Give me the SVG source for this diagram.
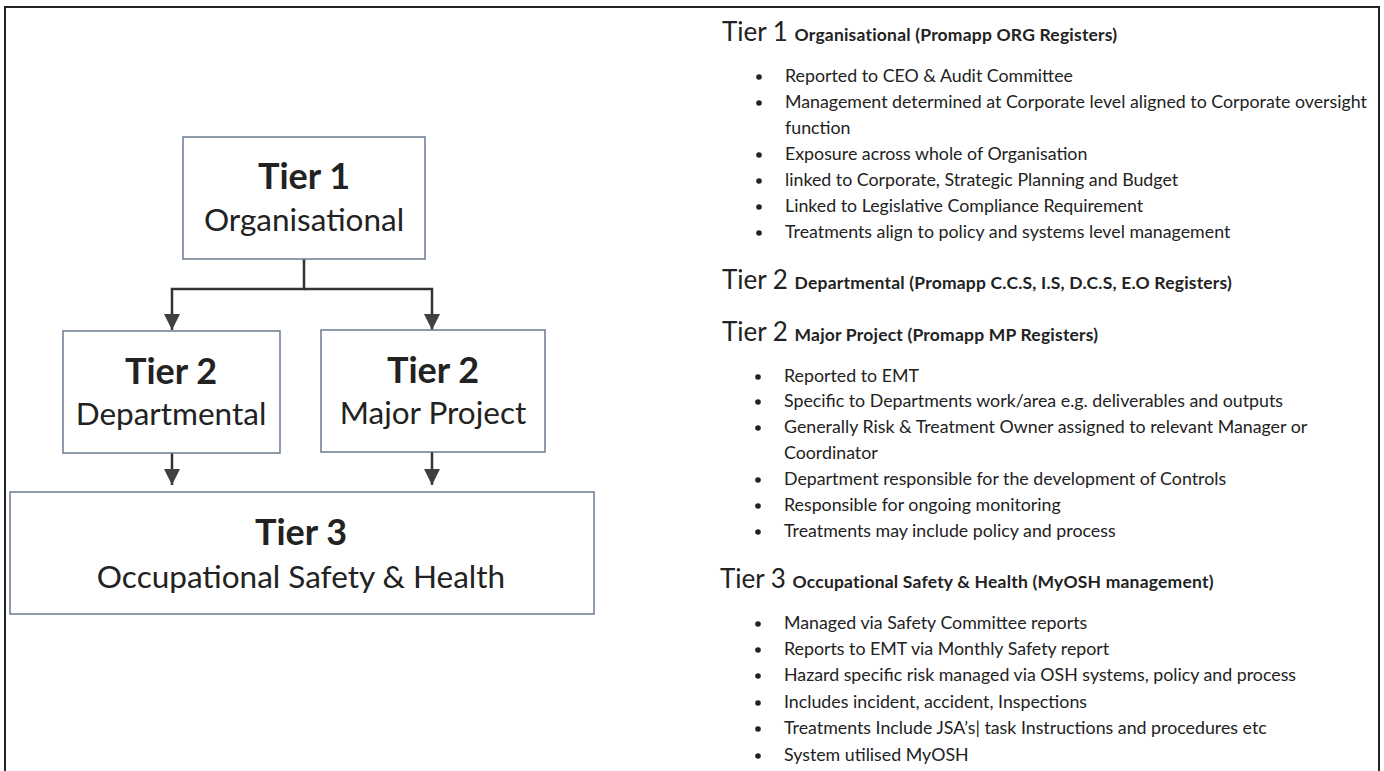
<svg xmlns="http://www.w3.org/2000/svg" width="1384" height="771" viewBox="0 0 1384 771">
<defs>
<style>
.frame{fill:none;stroke:#222;stroke-width:2}
.box{fill:#fff;stroke:#6b7a8f;stroke-width:1.5}
.t1{font-family:Lato,"Open Sans",sans-serif;font-weight:700;font-size:36px;fill:#222;text-anchor:middle}
.t2{font-family:Lato,"Open Sans",sans-serif;font-size:31.5px;fill:#222;text-anchor:middle}
.h{font-family:Lato,"Open Sans",sans-serif;font-size:26px;fill:#222}
.hs{font-family:Lato,"Open Sans",sans-serif;font-weight:700;font-size:17.5px;fill:#222;letter-spacing:0.2px}
.b{font-family:Lato,"Open Sans",sans-serif;font-size:17.8px;fill:#222}
.conn{fill:none;stroke:#333;stroke-width:2.5}
</style>
<marker id="arr" viewBox="0 0 10 10" refX="10" refY="5" markerWidth="6.5" markerHeight="6.5" markerUnits="strokeWidth" orient="auto">
<path d="M0,0 L10,5 L0,10 z" fill="#404040"/>
</marker>
</defs>
<rect x="0" y="0" width="1384" height="771" fill="#fff"/>
<rect class="frame" x="5" y="7" width="1374" height="770"/>

<g id="connectors">
<path class="conn" d="M304,259 V289 H172 V330" marker-end="url(#arr)"/>
<path class="conn" d="M304,289 H432 V330" marker-end="url(#arr)"/>
<path class="conn" d="M172,453 V485" marker-end="url(#arr)"/>
<path class="conn" d="M432,452 V485" marker-end="url(#arr)"/>
</g>

<g id="tier1">
<rect class="box" x="183" y="137" width="242" height="122"/>
<text class="t1" x="304" y="189">Tier 1</text>
<text class="t2" x="304" y="231">Organisational</text>
</g>
<g id="tier2-dept">
<rect class="box" x="63" y="331" width="217" height="122"/>
<text class="t1" x="171" y="384">Tier 2</text>
<text class="t2" x="171" y="425">Departmental</text>
</g>
<g id="tier2-mp">
<rect class="box" x="321" y="330" width="224" height="122"/>
<text class="t1" x="433" y="383">Tier 2</text>
<text class="t2" x="433" y="424">Major Project</text>
</g>
<g id="tier3">
<rect class="box" x="10" y="492" width="584" height="122"/>
<text class="t1" x="301" y="545">Tier 3</text>
<text class="t2" x="301" y="588">Occupational Safety &amp; Health</text>
</g>

<g id="notes">
<text x="722" y="41"><tspan class="h">Tier 1 </tspan><tspan class="hs">Organisational (Promapp ORG Registers)</tspan></text>
<g class="b">
<text x="785" y="82">Reported to CEO &amp; Audit Committee</text>
<text x="785" y="108">Management determined at Corporate level aligned to Corporate oversight</text>
<text x="785" y="134">function</text>
<text x="785" y="160">Exposure across whole of Organisation</text>
<text x="785" y="186">linked to Corporate, Strategic Planning and Budget</text>
<text x="785" y="212">Linked to Legislative Compliance Requirement</text>
<text x="785" y="238">Treatments align to policy and systems level management</text>
</g>
<g fill="#222">
<circle cx="759" cy="77" r="2.8"/><circle cx="759" cy="103" r="2.8"/><circle cx="759" cy="155" r="2.8"/>
<circle cx="759" cy="181" r="2.8"/><circle cx="759" cy="207" r="2.8"/><circle cx="759" cy="233" r="2.8"/>
</g>

<text x="722" y="289"><tspan class="h">Tier 2 </tspan><tspan class="hs">Departmental (Promapp C.C.S, I.S, D.C.S, E.O Registers)</tspan></text>
<text x="722" y="341"><tspan class="h">Tier 2 </tspan><tspan class="hs">Major Project (Promapp MP Registers)</tspan></text>
<g class="b">
<text x="784" y="382">Reported to EMT</text>
<text x="784" y="407">Specific to Departments work/area e.g. deliverables and outputs</text>
<text x="784" y="433">Generally Risk &amp; Treatment Owner assigned to relevant Manager or</text>
<text x="784" y="459">Coordinator</text>
<text x="784" y="485">Department responsible for the development of Controls</text>
<text x="784" y="511">Responsible for ongoing monitoring</text>
<text x="784" y="537">Treatments may include policy and process</text>
</g>
<g fill="#222">
<circle cx="758" cy="377" r="2.8"/><circle cx="758" cy="402" r="2.8"/><circle cx="758" cy="428" r="2.8"/>
<circle cx="758" cy="480" r="2.8"/><circle cx="758" cy="506" r="2.8"/><circle cx="758" cy="532" r="2.8"/>
</g>

<text x="720" y="588"><tspan class="h">Tier 3 </tspan><tspan class="hs">Occupational Safety &amp; Health (MyOSH management)</tspan></text>
<g class="b">
<text x="784" y="629">Managed via Safety Committee reports</text>
<text x="784" y="655">Reports to EMT via Monthly Safety report</text>
<text x="784" y="681">Hazard specific risk managed via OSH systems, policy and process</text>
<text x="784" y="708">Includes incident, accident, Inspections</text>
<text x="784" y="734">Treatments Include JSA’s| task Instructions and procedures etc</text>
<text x="784" y="761">System utilised MyOSH</text>
</g>
<g fill="#222">
<circle cx="758" cy="624" r="2.8"/><circle cx="758" cy="650" r="2.8"/><circle cx="758" cy="676" r="2.8"/>
<circle cx="758" cy="703" r="2.8"/><circle cx="758" cy="729" r="2.8"/><circle cx="758" cy="756" r="2.8"/>
</g>
</g>
</svg>
